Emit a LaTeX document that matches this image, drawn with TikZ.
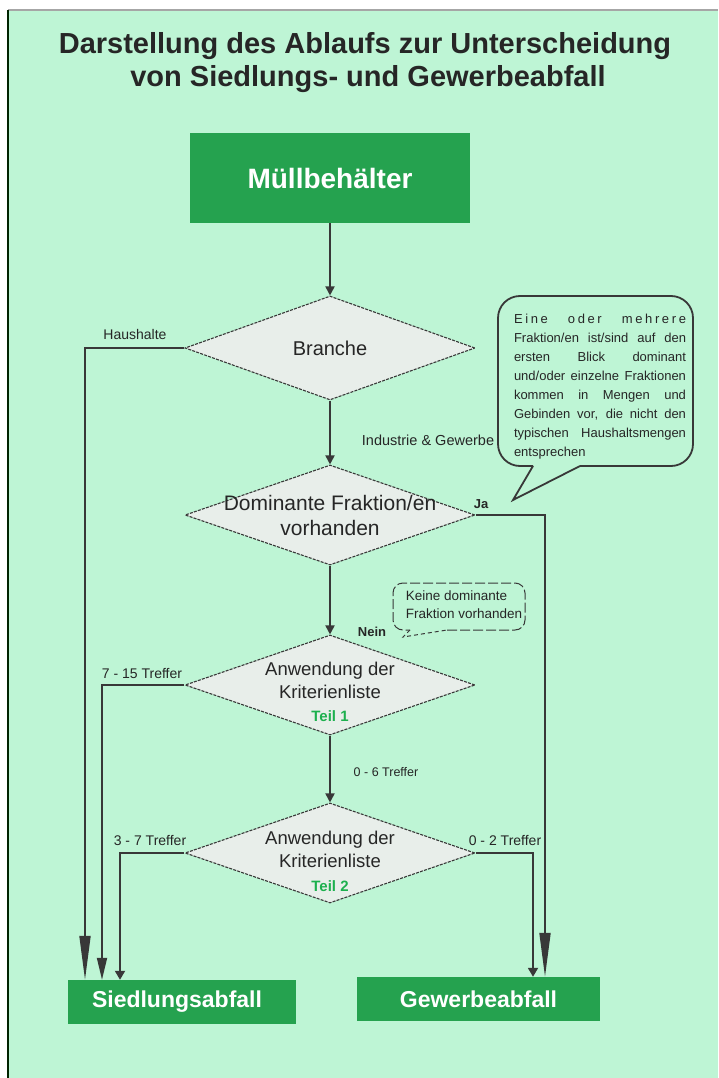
\documentclass[tikz,border=0pt]{standalone}
\usepackage{fontspec}
\setmainfont{Liberation Sans}
\usetikzlibrary{arrows.meta,shapes.geometric}
\definecolor{bg}{HTML}{BEF5D5}
\definecolor{boxg}{HTML}{25A24F}
\definecolor{dfill}{HTML}{E8EEEA}
\definecolor{lgray}{HTML}{383838}
\definecolor{teil}{HTML}{1DB04E}
\definecolor{txt}{HTML}{262626}
\tikzset{
  greenbox/.style={fill=boxg, text=white, inner sep=0pt},
  dia/.style={diamond, draw=lgray, line width=1.1pt, dash pattern=on 3pt off 1.2pt, fill=dfill, inner sep=0pt, minimum width=290pt, minimum height=100pt},
  dtext/.style={text=txt, align=center, inner sep=0pt},
  lbl/.style={text=txt, inner sep=0pt, font=\fontsize{14}{16}\selectfont},
  conn/.style={draw=lgray, line width=1.8pt},
  flow/.style={conn, -{Triangle[length=9pt,width=9pt]}},
  bigtip/.style={conn, -{Triangle[length=44pt,width=11pt]}},
  medtip/.style={conn, -{Triangle[length=22pt,width=10pt]}},
  smalltip/.style={conn, -{Triangle[length=9pt,width=10pt]}},
  titlefont/.style={text=txt, font=\fontsize{29}{33}\selectfont\bfseries, inner sep=0pt},
}
\begin{document}
\begin{tikzpicture}[x=1pt,y=-1pt]
\useasboundingbox (0,0) rectangle (718,1078);
\fill[white] (0,0) rectangle (718,1078);
\fill[bg] (8,11) rectangle (718,1078);
\draw[gray!70, line width=2.5pt] (8,10) -- (718,10);
\draw[black!65!green!40!black, line width=2pt] (8,10) -- (8,1078);

% title
\node[titlefont] (ti1) at (365,46) {Darstellung des Ablaufs zur Unterscheidung};
\node[titlefont] (ti2) at (368,79) {von Siedlungs- und Gewerbeabfall};

% main nodes
\node[greenbox, minimum width=280pt, minimum height=90pt, font=\fontsize{28}{32}\selectfont\bfseries] (mb) at (330,178) {Müllbehälter};

\node[dia, minimum height=104pt] (d1) at (330,348) {};
\node[dtext, font=\fontsize{20}{24}\selectfont] (t1) at (d1.center) {Branche};

\node[dia] (d2) at (330,515) {};
\node[dtext, font=\fontsize{21}{25}\selectfont] (t2) at (d2.center) {Dominante Fraktion/en\\vorhanden};

\node[dia] (d3) at (330,685) {};
\node[dtext, font=\fontsize{18.5}{23}\selectfont] (t3) at (330,692) {Anwendung der\\Kriterienliste\\{\color{teil}\bfseries\fontsize{15}{23}\selectfont Teil 1}};

\node[dia] (d4) at (330,853) {};
\node[dtext, font=\fontsize{18.5}{23.5}\selectfont] (t4) at (330,861) {Anwendung der\\Kriterienliste\\{\color{teil}\bfseries\fontsize{15}{23.5}\selectfont Teil 2}};

\node[greenbox, minimum width=228pt, minimum height=44pt, font=\fontsize{23}{26}\selectfont\bfseries] (sa) at (182,1002) {\hspace*{-10pt}Siedlungsabfall};
\node[greenbox, minimum width=243pt, minimum height=44pt, font=\fontsize{23}{26}\selectfont\bfseries] (ga) at (478.5,999) {Gewerbeabfall};

% x positions of the side lines
\coordinate (xa) at (85,0);
\coordinate (xb) at (102,0);
\coordinate (xc) at (120,0);
\coordinate (xd) at (533,0);
\coordinate (xe) at (545,0);

% connectors
\draw[flow] (mb.south) -- (d1.north);
\draw[flow] (d1.south) -- (d2.north);
\draw[flow] (d2.south) -- (d3.north);
\draw[flow] (d3.south) -- (d4.north);
\draw[bigtip] (d1.west) -| (xa |- sa.north);
\draw[medtip] (d3.west) -| (xb |- sa.north);
\draw[smalltip] (d4.west) -| (xc |- sa.north);
\draw[smalltip] (d4.east) -| (xd |- ga.north);
\draw[bigtip] (d2.east) -| (xe |- ga.north);

% labels
\node[lbl] (lh) at (135,334) {Haushalte};
\node[lbl, font=\fontsize{14.5}{16}\selectfont] (li) at (428,440) {Industrie \& Gewerbe};
\node[lbl, font=\fontsize{13}{15}\selectfont\bfseries] (lj) at (481,504) {Ja};
\node[lbl, font=\fontsize{13}{15}\selectfont\bfseries] (ln) at (372,632) {Nein};
\node[lbl] (l715) at (142,673) {7 - 15 Treffer};
\node[lbl, font=\fontsize{12.5}{15}\selectfont] (l06) at (386,772) {0 - 6 Treffer};
\node[lbl] (l37) at (150,840) {3 - 7 Treffer};
\node[lbl] (l02) at (505,840) {0 - 2 Treffer};

% big callout
\draw[lgray, line width=1.8pt, rounded corners=22pt] (580,466) -- (693,466) -- (693,296) -- (498,296) -- (498,466) -- (533,466);
\draw[lgray, line width=1.8pt, line join=miter] (533,466) -- (513,500) -- (580,466);
\node[text=txt, text width=172pt, align=justify, inner sep=0pt, font=\fontsize{13}{19}\selectfont] (cb) at (600,387) {{\addfontfeature{LetterSpace=20}Eine oder mehrere}\linebreak Fraktion/en ist/sind auf den\linebreak ersten Blick dominant\linebreak und/oder einzelne Fraktionen\linebreak kommen in Mengen und\linebreak Gebinden vor, die nicht den\linebreak typischen Haushaltsmengen\linebreak entsprechen};

% small callout
\draw[lgray, line width=1pt, dash pattern=on 10pt off 3pt, rounded corners=10pt] (447,630) -- (525,630) -- (525,583) -- (393,583) -- (393,630) -- (410,630);
\draw[lgray, line width=1pt, dash pattern=on 4pt off 3pt] (410,630) -- (403,637) -- (447,630);
\node[text=txt, align=left, inner sep=0pt, font=\fontsize{13.5}{18}\selectfont] (kb) at (464,605) {Keine dominante\\Fraktion vorhanden};
\end{tikzpicture}
\end{document}
